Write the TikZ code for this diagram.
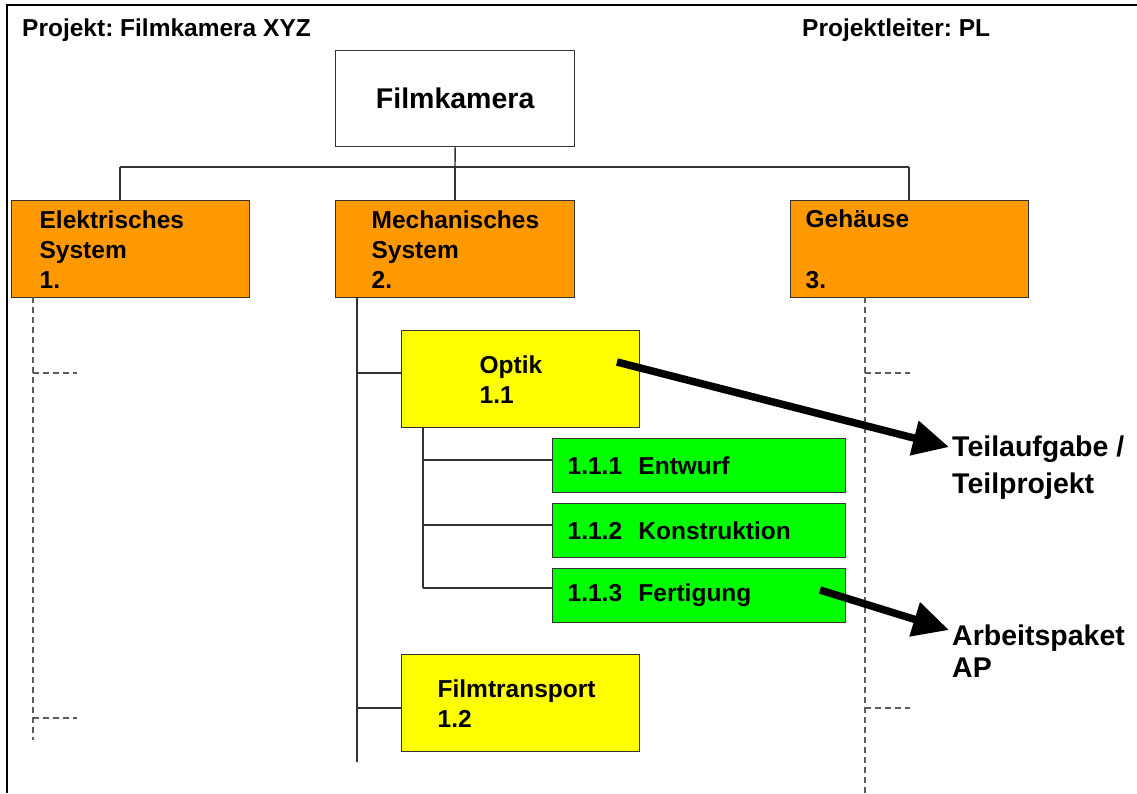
\documentclass[tikz,border=0pt]{standalone}
\usepackage{fontspec}
\setmainfont{Liberation Sans}
\usetikzlibrary{arrows.meta}
\definecolor{sysorange}{HTML}{FF9900}
\definecolor{subyellow}{HTML}{FFFF00}
\definecolor{apgreen}{HTML}{00FF00}
\definecolor{edge}{HTML}{333333}
\frenchspacing
\begin{document}
\begin{tikzpicture}[x=1pt,y=-1pt,
  txt/.style={font=\bfseries\fontsize{24.5}{30}\selectfont},
  bigtxt/.style={font=\bfseries\fontsize{28.5}{36}\selectfont},
  box/.style={draw=edge, line width=1.3pt, anchor=north west, inner ysep=0pt,
    align=left, txt},
  boxw/.style 2 args={inner xsep=#2pt, text width=#1pt-2*#2pt, minimum width=#1pt},
  link/.style={draw=edge, line width=1.4pt},
  lead/.style={draw=edge!80, line width=1.3pt, dash pattern=on 6pt off 4pt},
  pointer/.style={line width=7.5pt, -{Triangle[length=36pt,width=34pt]}},
  frame/.style={line width=2.5pt},
  lbl/.style={inner sep=0pt, anchor=west, align=left}
]
\useasboundingbox (0,0) rectangle (1137,793);

% sheet frame (only top and left edges fall on the page)
\draw[frame] (7,793) -- (7,5) -- (1137,5);

% header
\node[lbl, txt] (proj) at (22,30) {Projekt: Filmkamera XYZ};
\node[lbl, txt] (pl) at (802,30) {Projektleiter: PL};

% root
\node[draw=edge, line width=1.3pt, anchor=north west, minimum width=239pt,
      minimum height=96pt, bigtxt] (root) at (335,50) {Filmkamera};

% main systems
\node[box, boxw={238}{28}, fill=sysorange, minimum height=97pt] (el) at (11,200)
  {Elektrisches\\System\\1.};
\node[box, boxw={239}{36}, fill=sysorange, minimum height=97pt] (mech) at (335,200)
  {Mechanisches\\System\\2.};
\node[box, boxw={238}{15}, fill=sysorange, minimum height=97pt] (geh) at (790,200)
  {Gehäuse\\[31pt]3.};

% subsystems
\node[box, boxw={238}{78}, fill=subyellow, minimum height=97pt] (opt) at (401,330)
  {Optik\\1.1};
\node[box, boxw={238}{36}, fill=subyellow, minimum height=97pt] (ft) at (401,654)
  {Filmtransport\\1.2};

% work packages
\node[box, boxw={293}{15}, fill=apgreen, minimum height=54pt] (ap1) at (552,438)
  {1.1.1~~Entwurf};
\node[box, boxw={293}{15}, fill=apgreen, minimum height=54pt] (ap2) at (552,503)
  {1.1.2~~Konstruktion};
\node[box, boxw={293}{15}, fill=apgreen, minimum height=54pt] (ap3) at (552,568)
  {1.1.3~~Fertigung};

% side labels
\node[lbl, font=\bfseries\fontsize{28.5}{37}\selectfont] (tp) at (952,468)
  {Teilaufgabe /\\Teilprojekt};
\node[lbl, font=\bfseries\fontsize{28.5}{32}\selectfont] (apl) at (952,651)
  {Arbeitspaket\\AP};

% tree: root to systems
\coordinate (bus) at (455,167);
\draw[link] (root.south) -- (bus);
\draw[link] (120,167) -- (909,167);
\draw[link] (120,167) -- (el.north -| 120,0);
\draw[link] (bus) -- (mech.north -| bus);
\draw[link] (909,167) -- (geh.north -| 909,0);

% mechanical system branch
\coordinate (m0) at (357,297);
\coordinate (m1) at (357,373);
\coordinate (m2) at (357,708);
\coordinate (mend) at (357,762);
\draw[link] (m0) -- (mend);
\draw[link] (m1) -- (m1 -| opt.west);
\draw[link] (m2) -- (m2 -| ft.west);

% optics branch
\coordinate (o0) at (423,427);
\coordinate (o1) at (423,460);
\coordinate (o2) at (423,525);
\coordinate (o3) at (423,588);
\draw[link] (o0) -- (o3);
\draw[link] (o1) -- (o1 -| ap1.west);
\draw[link] (o2) -- (o2 -| ap2.west);
\draw[link] (o3) -- (o3 -| ap3.west);

% elided branches (dashed)
\coordinate (e0) at (33,297);
\coordinate (e1) at (33,373);
\coordinate (e2) at (33,718);
\coordinate (eend) at (33,740);
\draw[lead] (e0) -- (eend);
\draw[lead] (e1) -- ++(44,0);
\draw[lead] (e2) -- ++(44,0);
\coordinate (g0) at (865,297);
\coordinate (g1) at (865,373);
\coordinate (g2) at (865,708);
\coordinate (gend) at (865,793);
\draw[lead] (g0) -- (gend);
\draw[lead] (g1) -- ++(45,0);
\draw[lead] (g2) -- ++(45,0);

% explanatory pointers
\coordinate (p1s) at (617,362);
\coordinate (p1e) at (949,447);
\coordinate (p2s) at (820,590);
\coordinate (p2e) at (949,630);
\draw[pointer] (p1s) -- (p1e);
\draw[pointer] (p2s) -- (p2e);
\end{tikzpicture}
\end{document}
